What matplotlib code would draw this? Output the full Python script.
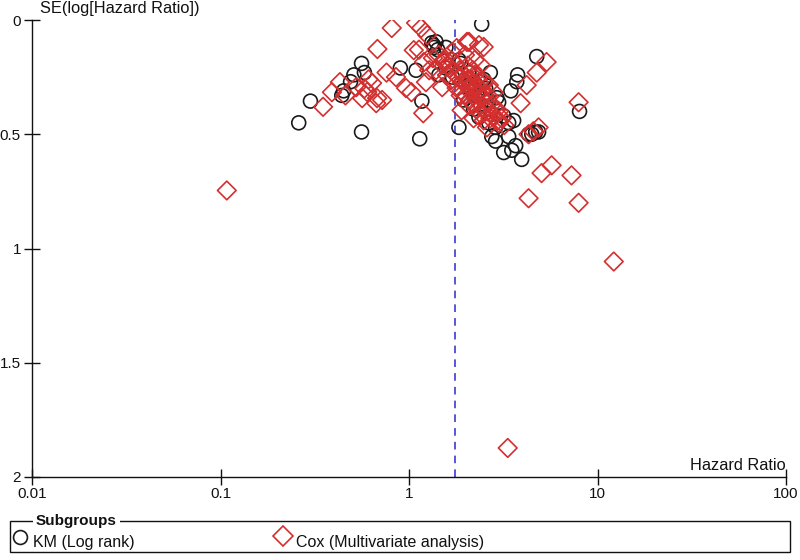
import matplotlib
matplotlib.use("Agg")
import matplotlib.pyplot as plt
from matplotlib.lines import Line2D
from matplotlib.patches import Rectangle

plt.rcParams['font.family'] = ['Liberation Sans', 'DejaVu Sans']

# KM (Log rank) subgroup: hazard ratio and SE(log HR)
km_hr = [0.26, 0.30, 0.56, 1.14, 1.84, 1.17, 0.90, 1.09, 0.56, 0.58, 0.51, 0.49, 0.45, 0.44,
         1.32, 1.39, 1.35, 1.88, 2.43, 4.76, 3.77, 3.73, 3.47, 2.92, 2.99, 2.35, 3.59, 2.75,
         3.38, 3.68, 8.03, 4.87, 4.48, 2.08, 1.84, 1.57, 2.65, 3.38, 4.31, 4.70, 3.18, 3.51,
         3.96, 2.88, 2.08, 2.30, 2.49, 2.65, 1.95, 2.20, 2.70, 2.55, 1.57, 1.44, 3.18, 2.88,
         1.36, 1.42, 2.15, 2.40, 1.70, 2.25]
km_se = [0.45, 0.355, 0.49, 0.52, 0.47, 0.355, 0.21, 0.22, 0.19, 0.23, 0.24, 0.27, 0.31, 0.33,
         0.10, 0.095, 0.11, 0.19, 0.018, 0.16, 0.24, 0.27, 0.31, 0.34, 0.36, 0.425, 0.44, 0.51,
         0.51, 0.55, 0.40, 0.49, 0.50, 0.23, 0.175, 0.12, 0.45, 0.45, 0.50, 0.49, 0.58, 0.57,
         0.61, 0.53, 0.285, 0.33, 0.26, 0.35, 0.35, 0.39, 0.23, 0.30, 0.21, 0.24, 0.42, 0.47,
         0.12, 0.13, 0.31, 0.37, 0.25, 0.28]

# Cox (Multivariate analysis) subgroup
cox_hr = [0.108, 3.34, 12.2, 7.28, 7.94, 7.94, 5.05, 5.71, 4.31, 5.37, 4.76, 4.21, 3.91, 4.87,
          4.31, 4.57, 2.99, 2.59, 2.15, 2.59, 2.88, 2.03, 2.35, 2.49, 0.81, 1.09, 1.16, 1.25,
          0.68, 0.35, 0.39, 0.43, 0.46, 0.525, 0.564, 0.637, 0.677, 0.72, 0.67, 0.853, 0.964,
          1.03, 1.19, 1.23, 1.06, 1.50, 1.39, 2.08, 0.58, 0.61, 0.60, 0.76,
          1.44, 1.53, 1.63, 1.73, 1.84, 1.95, 2.03, 2.13, 2.23, 2.35, 2.43, 2.52, 2.65, 2.29,
          2.08, 1.88, 1.79, 1.67, 1.59, 2.81, 2.81, 3.10, 2.49, 2.20, 1.90, 2.40, 2.23, 1.98,
          1.79, 1.69, 1.28, 1.20, 1.34, 1.13,
          1.85, 1.95, 2.05, 2.15, 2.25, 2.35, 2.45, 2.55, 1.90, 2.00, 2.10, 2.20, 2.30, 2.40,
          2.60, 2.70, 2.05, 2.18, 2.32, 2.48, 1.92, 2.12, 2.28, 2.62, 1.55, 1.62, 1.48, 1.70,
          2.75, 3.00, 3.20, 2.95]
cox_se = [0.746, 1.873, 1.057, 0.68, 0.80, 0.36, 0.67, 0.636, 0.78, 0.184, 0.23, 0.285, 0.364, 0.47,
          0.50, 0.487, 0.45, 0.47, 0.32, 0.386, 0.395, 0.096, 0.11, 0.118, 0.035, 0.013, 0.035, 0.066,
          0.127, 0.38, 0.316, 0.272, 0.33, 0.294, 0.342, 0.276, 0.342, 0.35, 0.364, 0.25, 0.298,
          0.316, 0.408, 0.272, 0.132, 0.294, 0.219, 0.096, 0.30, 0.26, 0.315, 0.23,
          0.153, 0.184, 0.21, 0.23, 0.254, 0.263, 0.285, 0.298, 0.24, 0.272, 0.307, 0.329, 0.285, 0.351,
          0.373, 0.33, 0.298, 0.263, 0.241, 0.316, 0.417, 0.43, 0.439, 0.43, 0.395, 0.197, 0.175, 0.153,
          0.123, 0.14, 0.22, 0.184, 0.167, 0.13,
          0.22, 0.24, 0.26, 0.28, 0.30, 0.32, 0.34, 0.36, 0.31, 0.33, 0.35, 0.37, 0.39, 0.41,
          0.40, 0.43, 0.20, 0.22, 0.25, 0.27, 0.27, 0.26, 0.29, 0.33, 0.17, 0.20, 0.19, 0.18,
          0.37, 0.40, 0.46, 0.44]

pooled_hr = 1.75
x_ticks = [0.01, 0.1, 1, 10, 100]
x_ticklabels = ["0.01", "0.1", "1", "10", "100"]
y_ticks = [0, 0.5, 1, 1.5, 2]
y_ticklabels = ["0", "0.5", "1", "1.5", "2"]

km_color = '#1a1a1a'
cox_color = '#d32f2f'

fig = plt.figure(figsize=(8, 5.6), dpi=100)
ax = fig.add_axes([32/800, 1 - 477/560, (786 - 32)/800, (477 - 20)/560])
ax.set_xscale('log')
ax.set_xlim(0.01, 100)
ax.set_ylim(2, 0)

ax.scatter(km_hr, km_se, s=10**2, marker='o', facecolors='none', edgecolors=km_color,
           linewidths=1.2, zorder=3)
ax.scatter(cox_hr, cox_se, s=9.5**2, marker='D', facecolors='none', edgecolors=cox_color,
           linewidths=1.2, zorder=3)
ax.axvline(pooled_hr, color='#2a2acc', linestyle=(0, (5, 4)), linewidth=1.1, zorder=2)

for s in ['top', 'right']:
    ax.spines[s].set_visible(False)
for s in ['left', 'bottom']:
    ax.spines[s].set_linewidth(1.0)
    ax.spines[s].set_color('#111111')

ax.set_xticks(x_ticks)
ax.set_xticklabels(x_ticklabels)
ax.xaxis.set_minor_locator(plt.NullLocator())
ax.set_yticks(y_ticks)
ax.set_yticklabels(y_ticklabels)
ax.tick_params(axis='both', direction='inout', length=12, width=1.0, labelsize=11,
               colors='#111111', pad=1)
ax.tick_params(axis='y', length=12, pad=2)

fig.text(40/800, 1 - 9/560, "SE(log[Hazard Ratio])", fontsize=11.8, ha='left', va='center',
         color='#111111')
fig.text(786/800, 1 - 465/560, "Hazard Ratio", fontsize=11.8, ha='right', va='center',
         color='#111111')

# Legend box
rect = Rectangle((10/800, 1 - 552/560), 780/800, 31/560, transform=fig.transFigure,
                 fill=False, edgecolor='#111111', linewidth=1.0)
fig.patches.append(rect)
fig.text(36/800, 1 - 521/560, "Subgroups", fontsize=11, fontweight='bold', ha='left',
         va='center', color='#111111',
         bbox=dict(facecolor='white', edgecolor='none', pad=2))
fig.lines.append(Line2D([20/800], [1 - 537/560], transform=fig.transFigure, marker='o',
                        markersize=10, markerfacecolor='none', markeredgecolor=km_color,
                        markeredgewidth=1.2, linestyle='none'))
fig.text(33/800, 1 - 542/560, "KM (Log rank)", fontsize=11.5, ha='left', va='center',
         color='#111111')
fig.lines.append(Line2D([283/800], [1 - 536/560], transform=fig.transFigure, marker='D',
                        markersize=10, markerfacecolor='none', markeredgecolor=cox_color,
                        markeredgewidth=1.2, linestyle='none'))
fig.text(296/800, 1 - 542/560, "Cox (Multivariate analysis)", fontsize=11.5, ha='left',
         va='center', color='#111111')

fig.savefig("out.png", dpi=100)
